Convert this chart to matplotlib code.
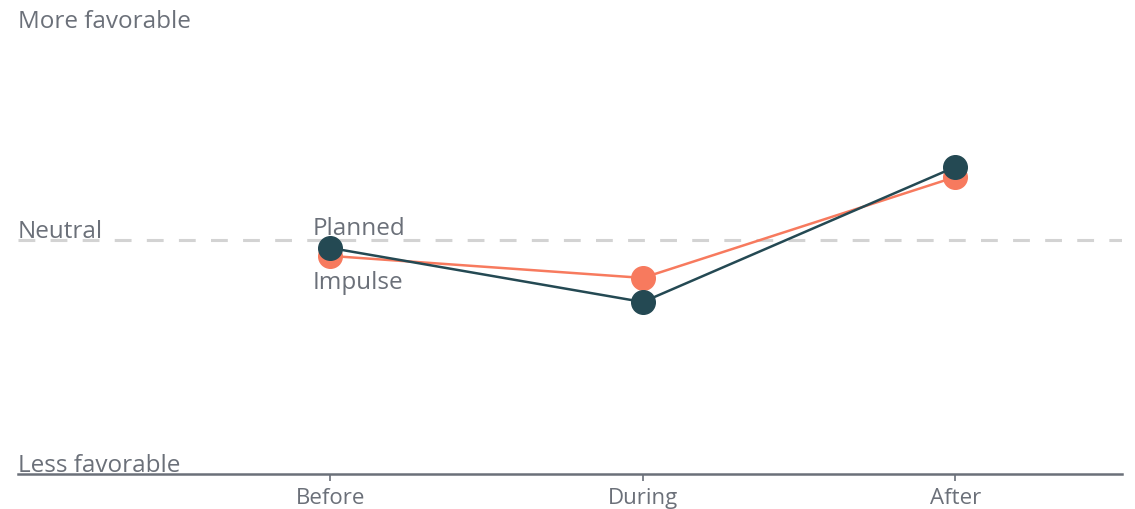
import matplotlib
matplotlib.use("Agg")
import matplotlib.pyplot as plt

categories = ["Before", "During", "After"]
planned = [-0.034, -0.265, 0.312]
impulse = [-0.068, -0.162, 0.269]
y_labels = {"Neutral": 0.0, "Less favorable": -1.0}
top_label = "More favorable"

DARK = "#244953"
ORANGE = "#f77a5e"
GRAY = "#6b7079"

plt.rcParams['font.family'] = ['Open Sans', 'DejaVu Sans']

fig = plt.figure(figsize=(11.35, 5.1), dpi=100)
ax = fig.add_axes([18/1135, 1-475/510, (1122-18)/1135, (475-7)/510])
x = list(range(len(categories)))

ax.axhline(0, color="#d3d3d3", lw=2.2, dashes=(5.5, 5), zorder=1)
ax.plot(x, impulse, color=ORANGE, lw=1.8, marker="o", ms=17, zorder=3)
ax.plot(x, planned, color=DARK, lw=1.8, marker="o", ms=17, zorder=4)

ax.set_xlim(-1.0, 2.534)
ax.set_ylim(-1, 1)
ax.set_xticks(x)
ax.set_xticklabels(categories, fontsize=16, color=GRAY)
ax.tick_params(axis="x", length=5, width=1.2, color=GRAY, pad=4.5)
ax.set_yticks([])
for s in ["top", "right", "left"]:
    ax.spines[s].set_visible(False)
ax.spines["bottom"].set_color(GRAY)
ax.spines["bottom"].set_linewidth(1.8)

for txt, yv in y_labels.items():
    ax.annotate(txt, (0.0, yv), xycoords=ax.get_yaxis_transform(),
                xytext=(0, -2), textcoords="offset points", fontsize=17.5,
                color=GRAY, ha="left", va="bottom")
fig.text(18/1135, 1-10/510, top_label, fontsize=17.5, color=GRAY, ha="left", va="top")

ax.annotate("Planned", (0, planned[0]), xytext=(-13, 6), textcoords="offset points",
            fontsize=17.5, color=GRAY, ha="left", va="bottom")
ax.annotate("Impulse", (0, impulse[0]), xytext=(-13, -10), textcoords="offset points",
            fontsize=17.5, color=GRAY, ha="left", va="top")

fig.savefig("out.png", dpi=100, facecolor="white")
